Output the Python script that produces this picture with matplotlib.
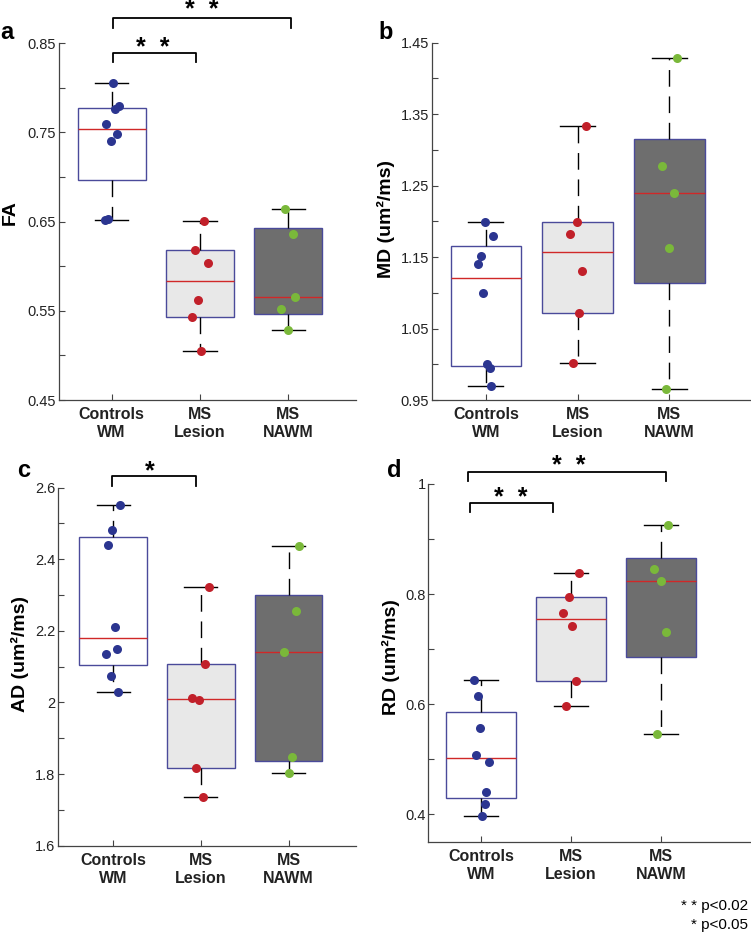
import numpy as np
import matplotlib
matplotlib.use("Agg")
import matplotlib.pyplot as plt

plt.rcParams['font.family'] = ['Liberation Sans', 'DejaVu Sans']

groups = ["Controls\nWM", "MS\nLesion", "MS\nNAWM"]

# values read from the points, with their horizontal jitter
fa_ctrl = [0.805, 0.780, 0.776, 0.760, 0.748, 0.741, 0.652, 0.653]
fa_les = [0.651, 0.618, 0.604, 0.562, 0.543, 0.505]
fa_nawm = [0.664, 0.636, 0.5655, 0.552, 0.528]
fa_jit = [[0.02, 0.08, 0.04, -0.06, 0.06, -0.01, -0.08, -0.04],
          [0.05, -0.06, 0.09, -0.02, -0.09, 0.01],
          [-0.04, 0.05, 0.08, -0.08, 0.0]]

md_ctrl = [1.199, 1.180, 1.152, 1.141, 1.100, 1.001, 0.995, 0.970]
md_les = [1.334, 1.199, 1.182, 1.131, 1.072, 1.002]
md_nawm = [1.429, 1.277, 1.239, 1.163, 0.965]
md_jit = [[-0.01, 0.08, -0.05, -0.08, -0.03, 0.01, 0.04, 0.06],
          [0.09, -0.01, -0.08, 0.05, 0.02, -0.05],
          [0.08, -0.08, 0.05, 0.0, -0.04]]

ad_ctrl = [2.553, 2.482, 2.441, 2.211, 2.149, 2.135, 2.074, 2.030]
ad_les = [2.3235, 2.107, 2.0134, 2.007, 1.817, 1.735]
ad_nawm = [2.438, 2.2546, 2.141, 1.8467, 1.802]
ad_jit = [[0.08, -0.01, -0.06, 0.02, 0.04, -0.08, -0.03, 0.06],
          [0.09, 0.05, -0.10, -0.02, -0.05, 0.02],
          [0.12, 0.08, -0.05, 0.04, 0.0]]

rd_ctrl = [0.644, 0.614, 0.557, 0.508, 0.4945, 0.441, 0.419, 0.396]
rd_les = [0.839, 0.795, 0.766, 0.742, 0.642, 0.597]
rd_nawm = [0.9255, 0.8455, 0.823, 0.7315, 0.5455]
rd_jit = [[-0.08, -0.03, -0.01, -0.06, 0.09, 0.06, 0.04, 0.01],
          [0.09, -0.02, -0.09, 0.01, 0.05, -0.06],
          [0.08, -0.08, 0.0, 0.05, -0.04]]

box_fill = ['white', '#e8e8e8', '#6e6e6e']
dot_col = ['#2b3590', '#c1202a', '#7ab83a']

fig = plt.figure(figsize=(7.51, 9.36), dpi=100)
W, H = 751.0, 936.0


def make_ax(l, r, b, t):
    return fig.add_axes([l / W, 1 - b / H, (r - l) / W, (b - t) / H])


def panel(ax, data, jit, ylim, major, major_lab, minor, xlim):
    stats = []
    for d in data:
        d = np.array(d)
        stats.append(dict(med=np.percentile(d, 50, method='hazen'),
                          q1=np.percentile(d, 25, method='hazen'),
                          q3=np.percentile(d, 75, method='hazen'),
                          whislo=d.min(), whishi=d.max(), fliers=[]))
    bp = ax.bxp(stats, positions=[1, 2, 3], widths=0.77, patch_artist=True,
                showfliers=False, capwidths=0.38,
                boxprops=dict(edgecolor='#4a4a9a', linewidth=1.0),
                whiskerprops=dict(color='black', linewidth=1.0, linestyle=(0, (12, 7))),
                capprops=dict(color='black', linewidth=1.0),
                medianprops=dict(color='#d02828', linewidth=1.0))
    for p, c in zip(bp['boxes'], box_fill):
        p.set_facecolor(c)
    for i, (d, j) in enumerate(zip(data, jit)):
        ax.plot(np.array(j) + i + 1, d, 'o', color=dot_col[i], markersize=6.5,
                markeredgewidth=0, zorder=5)
    ax.set_xlim(*xlim)
    ax.set_ylim(*ylim)
    ax.set_yticks(major)
    ax.set_yticklabels(major_lab)
    ax.set_yticks(minor, minor=True)
    ax.set_xticks([1, 2, 3])
    ax.set_xticklabels(groups, fontsize=11.5, fontweight='bold', linespacing=1.25,
                       color='#222222')
    ax.tick_params(axis='both', which='both', direction='in', length=4,
                   width=0.8, color='#444444')
    ax.tick_params(axis='y', labelsize=10.5, pad=2, labelcolor='#222222')
    ax.tick_params(axis='x', pad=5)
    for s in ['top', 'right']:
        ax.spines[s].set_visible(False)
    for s in ['left', 'bottom']:
        ax.spines[s].set_color('#444444')
        ax.spines[s].set_linewidth(0.9)


def bracket(ax, x0, x1, y, leg, sx, sy, txt):
    ax.plot([x0, x0, x1, x1], [y - leg, y, y, y - leg], color='black',
            lw=1.3, clip_on=False)
    ax.text(sx, sy, txt, ha='center', va='baseline', fontsize=18,
            fontweight='bold', clip_on=False)


# a
ax = make_ax(59, 356, 400, 43.3)
panel(ax, [fa_ctrl, fa_les, fa_nawm], fa_jit, (0.45, 0.85),
      [0.45, 0.55, 0.65, 0.75, 0.85], ['0.45', '0.55', '0.65', '0.75', '0.85'],
      [0.5, 0.6, 0.7, 0.8], (0.403, 3.767))
bracket(ax, 1.01, 1.95, 0.8395, 0.0108, 1.47, 0.8372, '*  *')
bracket(ax, 1.01, 3.03, 0.8787, 0.0112, 2.02, 0.8790, '*  *')

# b
ax = make_ax(431.7, 751, 400, 42.7)
panel(ax, [md_ctrl, md_les, md_nawm], md_jit, (0.95, 1.45),
      [0.95, 1.05, 1.15, 1.25, 1.35, 1.45], ['0.95', '1.05', '1.15', '1.25', '1.35', '1.45'],
      [1.0, 1.1, 1.2, 1.3, 1.4], (0.41, 3.89))

# c
ax = make_ax(58.3, 356, 845.7, 487.7)
panel(ax, [ad_ctrl, ad_les, ad_nawm], ad_jit, (1.6, 2.6),
      [1.6, 1.8, 2.0, 2.2, 2.4, 2.6], ['1.6', '1.8', '2', '2.2', '2.4', '2.6'],
      [1.7, 1.9, 2.1, 2.3, 2.5], (0.374, 3.77))
bracket(ax, 0.99, 1.95, 2.633, 0.028, 1.42, 2.627, '*')

# d
ax = make_ax(428.3, 751, 841.7, 484)
panel(ax, [rd_ctrl, rd_les, rd_nawm], rd_jit, (0.35, 1.0),
      [0.4, 0.6, 0.8, 1.0], ['0.4', '0.6', '0.8', '1'],
      [0.5, 0.7, 0.9], (0.414, 4.0))
bracket(ax, 0.88, 1.8, 0.966, 0.0175, 1.33, 0.962, '*  *')
bracket(ax, 0.85, 3.05, 1.0224, 0.0164, 1.97, 1.0195, '*  *')

# y labels
ylab = dict(rotation=90, ha='center', va='center', fontsize=14, fontweight='bold')
fig.text(10 / W, 1 - 213 / H, 'FA', **ylab)
fig.text(386 / W, 1 - 219 / H, 'MD (um²/ms)', **ylab)
fig.text(20 / W, 1 - 654 / H, 'AD (um²/ms)', **ylab)
fig.text(391 / W, 1 - 657 / H, 'RD (um²/ms)', **ylab)

# panel letters
let = dict(fontsize=17, fontweight='bold', va='baseline', ha='left')
fig.text(0 / W, 1 - 39 / H, 'a', **let)
fig.text(378 / W, 1 - 39 / H, 'b', **let)
fig.text(17 / W, 1 - 477 / H, 'c', **let)
fig.text(387 / W, 1 - 477 / H, 'd', **let)

fig.text(748 / W, 1 - 910 / H, '* * p<0.02', ha='right', va='baseline', fontsize=11)
fig.text(748 / W, 1 - 929 / H, '* p<0.05', ha='right', va='baseline', fontsize=11)

fig.savefig('out.png', dpi=100)
